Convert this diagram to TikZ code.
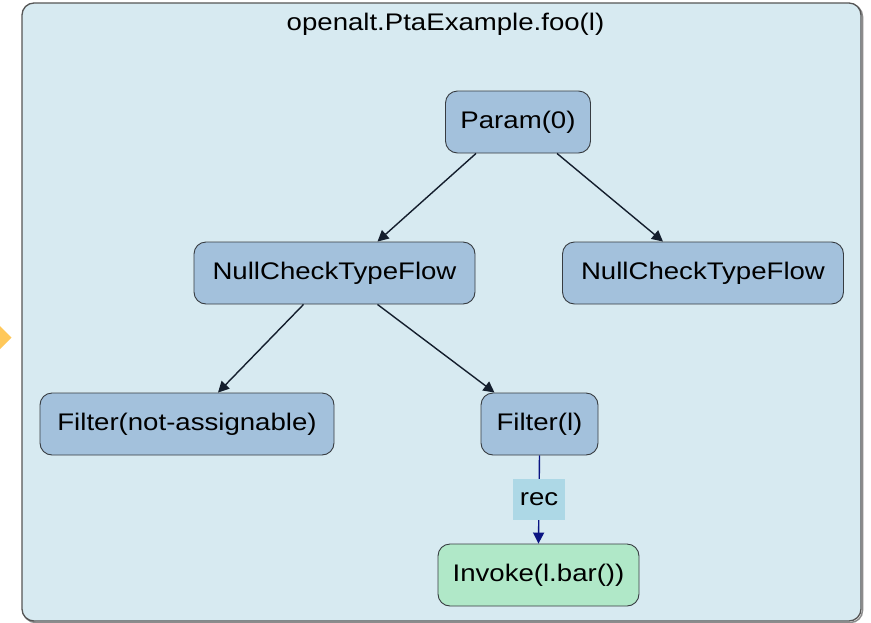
\documentclass[tikz,border=0pt]{standalone}
\usepackage{fontspec}
\setmainfont[FakeStretch=1.15]{Liberation Sans}
\usetikzlibrary{arrows.meta}
\definecolor{panelfill}{RGB}{215,234,241}
\definecolor{panelline}{RGB}{85,85,85}
\definecolor{flowfill}{RGB}{163,193,220}
\definecolor{callfill}{RGB}{176,232,200}
\definecolor{nodeline}{RGB}{55,60,65}
\definecolor{edgeline}{RGB}{20,30,45}
\definecolor{recline}{RGB}{10,20,130}
\definecolor{recfill}{RGB}{173,216,230}
\definecolor{marker}{RGB}{255,200,90}
\tikzset{
  flownode/.style={draw=nodeline, line width=0.9pt, rounded corners=12pt,
    fill=flowfill, minimum height=62pt, inner sep=0pt,
    font=\fontsize{24}{28}\selectfont},
  callnode/.style={flownode, fill=callfill},
  flowedge/.style={draw=edgeline, line width=1.4pt,
    -{Triangle[length=11pt,width=11pt]}},
  recedge/.style={draw=recline, line width=1.4pt,
    -{Triangle[length=11pt,width=11pt]}},
  reclabel/.style={fill=recfill, minimum width=52pt, minimum height=41pt,
    inner sep=0pt, font=\fontsize{24}{28}\selectfont, text=black}
}
\begin{document}
\begin{tikzpicture}[x=1pt, y=-1pt]
  \useasboundingbox (0,0) rectangle (871,622);
  % marker peeking in at the left edge
  \fill[marker] (-6,320) -- (11.5,337.5) -- (-6,355) -- cycle;
  % method panel with a faint shadow on its right edge
  \draw[black!45, line width=1.5pt, rounded corners=12pt]
    (23.5,4.5) rectangle (862.5,622.5);
  \draw[panelline, line width=1.3pt, fill=panelfill, rounded corners=12pt]
    (22,3) rectangle (861,621);
  \node[font=\fontsize{24}{28}\selectfont] (title) at (445.5,24.5) {openalt.PtaExample.foo(l)};

  \node[flownode, minimum width=145pt] (param) at (518,122) {Param(0)};
  \node[flownode, minimum width=281pt] (ncl) at (334.5,273) {NullCheckTypeFlow};
  \node[flownode, minimum width=281pt] (ncr) at (703,273) {NullCheckTypeFlow};
  \node[flownode, minimum width=294pt] (fna) at (187,424) {Filter(not-assignable)};
  \node[flownode, minimum width=117pt] (fl) at (539.5,424) {Filter(l)};
  \node[callnode, minimum width=201pt] (inv) at (538.5,575) {Invoke(l.bar())};

  \draw[flowedge] ([xshift=-42pt]param.south) -- ([xshift=43pt]ncl.north);
  \draw[flowedge] ([xshift=39pt]param.south) -- ([xshift=-40pt]ncr.north);
  \draw[flowedge] ([xshift=-31pt]ncl.south) -- ([xshift=31pt]fna.north);
  \draw[flowedge] ([xshift=43pt]ncl.south) -- ([xshift=-45pt]fl.north);
  \draw[recedge] (fl.south) -- (inv.north)
    node[reclabel, pos=0.5] (rec) {rec};
\end{tikzpicture}
\end{document}
